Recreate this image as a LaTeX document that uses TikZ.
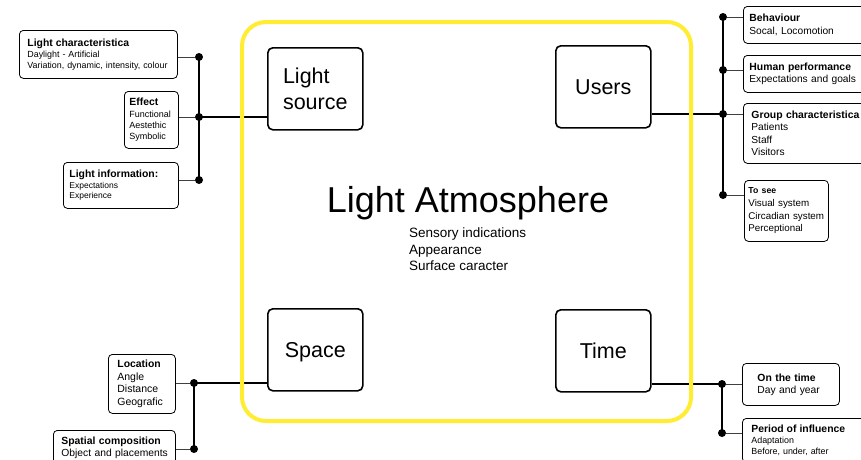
\documentclass[tikz,border=0pt]{standalone}
\usepackage{fontspec}
\setmainfont{Liberation Sans}
\usepackage{tikz}
\usetikzlibrary{shapes}
\definecolor{atmoyellow}{RGB}{255,236,51}
\newcommand{\fsz}[2]{\fontsize{#1}{#2}\selectfont}
\newcommand{\boxtitle}[1]{{\fsz{10.4}{12}\bfseries #1}}
\newcommand{\dotd}{8pt}
\newcommand{\busw}{1.3pt}
\newcommand{\mainw}{2.8pt}

\begin{document}
\begin{tikzpicture}[x=1pt,y=-1pt,
    corner/.style={draw,line width=1.6pt,rounded corners=5pt,anchor=north west,
        minimum width=95pt,minimum height=82pt,align=left,font=\fsz{21.5}{26}},
    info/.style={draw,line width=0.8pt,rounded corners=4pt,anchor=north west,
        align=left,inner ysep=0pt},
    jdot/.style={circle,fill=black,inner sep=0pt,minimum size=\dotd},
    stub/.style={line width=0.8pt,black!75},
    bus/.style={line width=\busw},
    main/.style={line width=\mainw}]
    %\draw[red] (0,0) rectangle (861,459);
    \useasboundingbox (0,0) rectangle (861,459);

    \node[corner] (lsrc) at (267,47) {Light\\source};
    \node[corner] (users) at (555,45) {Users};
    \node[corner,text depth=0pt] (space) at (267,308) {Space};
    \node[corner] (time) at (555,309) {Time};

    \node[font=\fsz{36}{40}] (atmo) at (468,203) {Light Atmosphere};
    \node[anchor=north west,align=left,inner sep=0pt,font=\fsz{13.5}{16.5}] (sense) at (409,228)
        {Sensory indications\\Appearance\\Surface caracter};

    \node[info,text width=142pt,inner xsep=8pt,minimum height=48pt,font=\fsz{8.9}{11}] (lchar) at (19,30)
        {\boxtitle{Light characteristica}\\Daylight - Artificial\\\mbox{Variation, dynamic, intensity, colour}};
    \node[info,text width=44pt,inner xsep=5pt,minimum height=57pt,font=\fsz{9}{11.3}] (effect) at (124,91)
        {\boxtitle{Effect}\\Functional\\Aestethic\\Symbolic};
    \node[info,text width=103pt,inner xsep=6pt,minimum height=46pt,font=\fsz{8.5}{10.5}] (linfo) at (63,162)
        {\boxtitle{Light information:}\\Expectations\\Experience};

    \node[info,text width=128pt,inner xsep=6pt,minimum height=37pt,font=\fsz{10.2}{12.7}] (behav) at (743,6)
        {\boxtitle{Behaviour}\\Socal, Locomotion};
    \node[info,text width=128pt,inner xsep=6pt,minimum height=37pt,font=\fsz{10.2}{12.7}] (hperf) at (743,55)
        {\boxtitle{Human performance}\\Expectations and goals};
    \node[info,text width=124pt,inner xsep=8pt,minimum height=60pt,font=\fsz{10.2}{12.5}] (group) at (743,103)
        {\boxtitle{Group characteristica}\\Patients\\Staff\\Visitors};
    \node[info,text width=76pt,inner xsep=4pt,minimum height=61pt,font=\fsz{9.8}{12.7}] (tosee) at (744,180)
        {{\fsz{8.7}{10}\bfseries To see}\\Visual system\\\mbox{Circadian system}\\Perceptional};

    \node[info,text width=49pt,inner xsep=9pt,minimum height=59pt,font=\fsz{10.5}{12.5}] (loc) at (108,354)
        {\boxtitle{Location}\\Angle\\Distance\\Geografic};
    \node[info,text width=106pt,inner xsep=8pt,minimum height=35pt,font=\fsz{10.3}{12}] (spat) at (53,430)
        {\boxtitle{Spatial composition}\\\mbox{Object and placements}};

    \node[info,text width=67pt,inner xsep=15pt,minimum height=42pt,font=\fsz{10.3}{12}] (ontime) at (742,363)
        {\boxtitle{On the time}\\Day and year};
    \node[info,text width=122pt,inner xsep=9pt,minimum height=44pt,font=\fsz{8.9}{10.8}] (period) at (742,418)
        {\boxtitle{Period of influence}\\Adaptation\\Before, under, after};

    \node[jdot] (l1) at (199,57) {};
    \node[jdot] (l2) at (199,117) {};
    \node[jdot] (l3) at (199,180) {};
    \node[jdot] (r1) at (723,17) {};
    \node[jdot] (r2) at (723,70) {};
    \node[jdot] (r3) at (723,114) {};
    \node[jdot] (r4) at (723,195) {};
    \node[jdot] (b1) at (194,383) {};
    \node[jdot] (b2) at (194,449) {};
    \node[jdot] (t1) at (722,384) {};
    \node[jdot] (t2) at (722,433) {};

    \draw[main] (l2.center) -- (l2 -| lsrc.west);
    \draw[main] (r3.center) -- (r3 -| users.east);
    \draw[main] (b1.center) -- (b1 -| space.west);
    \draw[main] (t1.center) -- (t1 -| time.east);

    \draw[bus] (l1.center) -- (l3.center);
    \draw[bus] (r1.center) -- (r4.center);
    \draw[bus] (b1.center) -- (b2.center);
    \draw[bus] (t1.center) -- (t2.center);

    \draw[stub] (l1) -- (l1 -| lchar.east);
    \draw[stub] (l2) -- (l2 -| effect.east);
    \draw[stub] (l3) -- (l3 -| linfo.east);
    \draw[stub] (r1) -- (r1 -| behav.west);
    \draw[stub] (r2) -- (r2 -| hperf.west);
    \draw[stub] (r3) -- (r3 -| group.west);
    \draw[stub] (r4) -- (r4 -| tosee.west);
    \draw[stub] (b1) -- (b1 -| loc.east);
    \draw[stub] (b2) -- (b2 -| spat.east);
    \draw[stub] (t1) -- (t1 -| ontime.west);
    \draw[stub] (t2) -- (t2 -| period.west);

    \draw[atmoyellow,line width=4pt,rounded corners=24pt] (242,22) rectangle (691,421);
\end{tikzpicture}
\end{document}
